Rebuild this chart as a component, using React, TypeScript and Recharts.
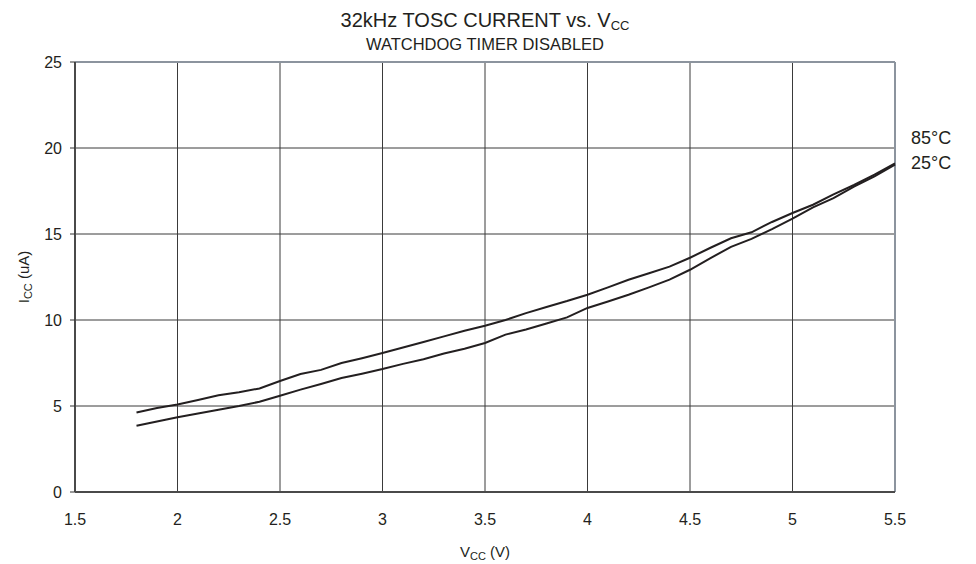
import React from "react";
import {
  LineChart,
  Line,
  XAxis,
  YAxis,
  CartesianGrid,
  ReferenceLine,
  Customized,
} from "recharts";

const vcc = [
  1.8, 1.9, 2.0, 2.1, 2.2, 2.3, 2.4, 2.5, 2.6, 2.7, 2.8, 2.9, 3.0, 3.1, 3.2, 3.3,
  3.4, 3.5, 3.6, 3.7, 3.8, 3.9, 4.0, 4.1, 4.2, 4.3, 4.4, 4.5, 4.6, 4.7, 4.8, 4.9,
  5.0, 5.1, 5.2, 5.3, 5.4, 5.5,
];

const icc85 = [
  4.62, 4.88, 5.09, 5.35, 5.62, 5.8, 6.02, 6.45, 6.86, 7.1, 7.5, 7.78, 8.08, 8.4,
  8.72, 9.05, 9.38, 9.67, 10.0, 10.4, 10.76, 11.1, 11.47, 11.9, 12.34, 12.72,
  13.1, 13.62, 14.2, 14.75, 15.1, 15.7, 16.22, 16.7, 17.3, 17.85, 18.45, 19.1,
];

const icc25 = [
  3.85, 4.1, 4.34, 4.56, 4.78, 5.0, 5.25, 5.6, 5.95, 6.28, 6.63, 6.88, 7.15,
  7.45, 7.72, 8.05, 8.33, 8.66, 9.15, 9.45, 9.8, 10.15, 10.7, 11.08, 11.47, 11.9,
  12.35, 12.92, 13.6, 14.25, 14.72, 15.28, 15.89, 16.55, 17.08, 17.75, 18.35,
  19.03,
];

const xTicks = [1.5, 2, 2.5, 3, 3.5, 4, 4.5, 5, 5.5];
const yTicks = [0, 5, 10, 15, 20, 25];

const title = "32kHz TOSC CURRENT vs. V";
const titleSub = "CC";
const subtitle = "WATCHDOG TIMER DISABLED";
const seriesLabels = ["85°C", "25°C"];

const data = vcc.map((v, i) => ({ v, t85: icc85[i], t25: icc25[i] }));

const FONT = "'Liberation Sans', Arial, Helvetica, sans-serif";

const Annotations = () => (
  <g fontFamily={FONT} fill="#231f20">
    <text x={485} y={27} textAnchor="middle" fontSize={20}>
      {title}
      <tspan fontSize={13} dy={3}>
        {titleSub}
      </tspan>
    </text>
    <text x={485} y={50} textAnchor="middle" fontSize={16.5}>
      {subtitle}
    </text>
    <text x={911} y={144} fontSize={18}>
      {seriesLabels[0]}
    </text>
    <text x={911} y={169} fontSize={18}>
      {seriesLabels[1]}
    </text>
    <text x={485} y={557} textAnchor="middle" fontSize={15}>
      V
      <tspan fontSize={11} dy={3}>
        CC
      </tspan>
      <tspan dy={-3}> (V)</tspan>
    </text>
    <text
      x={0}
      y={0}
      textAnchor="middle"
      fontSize={15}
      transform="translate(29,277) rotate(-90)"
    >
      I
      <tspan fontSize={11} dy={3}>
        CC
      </tspan>
      <tspan dy={-3}> (uA)</tspan>
    </text>
  </g>
);

export default function App() {
  return (
    <div style={{ position: "absolute", left: 0, top: 0 }}>
      <LineChart
        width={976}
        height={564}
        data={data}
        margin={{ top: 62, right: 81, bottom: 42, left: 15 }}
      >
        <CartesianGrid stroke="#3a3a3a" strokeWidth={1} />
        <XAxis
          dataKey="v"
          type="number"
          domain={[1.5, 5.5]}
          ticks={xTicks}
          height={30}
          tickLine={false}
          tickSize={6}
          tickMargin={16}
          axisLine={{ stroke: "#4a4a4a", strokeWidth: 2 }}
          tick={{ fill: "#231f20", fontSize: 16, fontFamily: FONT }}
        />
        <YAxis
          type="number"
          domain={[0, 25]}
          ticks={yTicks}
          width={60}
          tickSize={5}
          tickMargin={8}
          tickLine={{ stroke: "#333" }}
          axisLine={{ stroke: "#4a4a4a", strokeWidth: 2 }}
          tick={{ fill: "#231f20", fontSize: 16, fontFamily: FONT }}
        />
        <ReferenceLine y={25} stroke="#8c949e" strokeWidth={2} />
        <ReferenceLine x={5.5} stroke="#8c949e" strokeWidth={2} />
        <Line
          type="linear"
          dataKey="t85"
          stroke="#231f20"
          strokeWidth={2}
          dot={false}
          isAnimationActive={false}
        />
        <Line
          type="linear"
          dataKey="t25"
          stroke="#231f20"
          strokeWidth={2}
          dot={false}
          isAnimationActive={false}
        />
        <Customized component={Annotations} />
      </LineChart>
    </div>
  );
}
